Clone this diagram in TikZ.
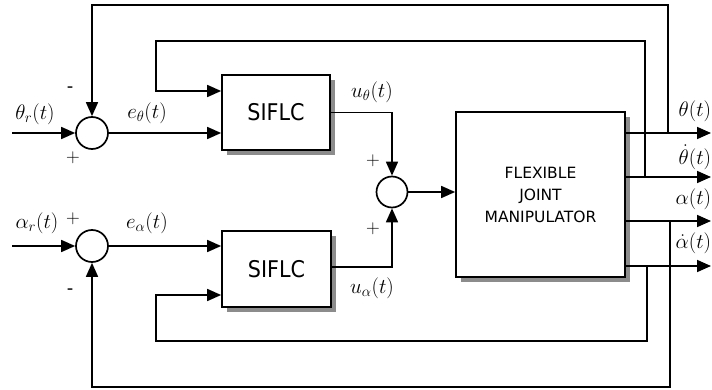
\RequirePackage{fix-cm}
\documentclass[tikz,border=0pt]{standalone}
\usepackage{fontspec}
\newfontfamily\blkfont{DejaVu Sans Condensed}
\newfontfamily\fjmfont{DejaVu Sans}
\usetikzlibrary{arrows.meta,shadows,calc}
\begin{document}
\begin{tikzpicture}[x=1pt,y=-1pt,line width=1.7pt,
  sumnode/.style={circle,draw,fill=white,minimum size=32pt,inner sep=0pt},
  blk/.style={draw,fill=white,inner sep=0pt,
    drop shadow={shadow xshift=5pt,shadow yshift=-5pt,opacity=1,fill=black!45,draw=none}},
  arr/.style={-{Triangle[length=14pt,width=12pt]}},
  lbl/.style={inner sep=0pt,font=\fontsize{21}{24}\selectfont},
  sgn/.style={inner sep=0pt,font=\fontsize{19}{22}\selectfont},
  dash sign/.style={inner sep=0pt,font=\fjmfont\fontsize{18}{20}\selectfont}]
\useasboundingbox (0,0) rectangle (712,390);

% blocks
\node[blk,minimum width=108pt,minimum height=75pt,font=\blkfont\fontsize{23}{26}\selectfont] (c1) at (276,112.5) {SIFLC};
\node[blk,minimum width=109pt,minimum height=76pt,font=\blkfont\fontsize{23}{26}\selectfont] (c2) at (276.5,269) {SIFLC};
\node[blk,minimum width=169pt,minimum height=165pt,align=center,
  font=\fjmfont\fontsize{15.5}{22}\selectfont] (fjm) at (540.5,194.5) {FLEXIBLE\\JOINT\\MANIPULATOR};

% summing junctions
\node[sumnode] (s1) at (92,133) {};
\node[sumnode] (s2) at (92,246) {};
\node[sumnode,minimum size=31pt] (s3) at (392,192) {};

% coordinates
\coordinate (in1) at (12,133);
\coordinate (in2) at (12,246);
\coordinate (o1) at (711,133);
\coordinate (o2) at (711,177);
\coordinate (o3) at (711,221);
\coordinate (o4) at (711,266);
\coordinate (j1) at (668,133);
\coordinate (j2) at (645,177);
\coordinate (j3) at (647,266);
\coordinate (j4) at (670,221);
\coordinate (t1) at (92,5);
\coordinate (t2) at (156,41);
\coordinate (b2) at (156,341);
\coordinate (b1) at (92,387);

% forward paths
\draw[arr] (in1) -- (s1.west);
\draw[arr] (in2) -- (s2.west);
\draw[arr] (s1.east) -- (s1.east -| c1.west);
\draw[arr] (s2.east) -- (s2.east -| c2.west);
\draw[arr] (c1.east) -| (s3.north);
\draw[arr] ($(c2.east)+(0,-2)$) -| (s3.south);
\draw[arr] (s3.east) -- (s3.east -| fjm.west);

% outputs
\draw[arr] (o1 -| fjm.east) -- (o1);
\draw[arr] (o2 -| fjm.east) -- (o2);
\draw[arr] (o3 -| fjm.east) -- (o3);
\draw[arr] (o4 -| fjm.east) -- (o4);

% feedback paths
\draw[arr] (j1) |- (t1) -- (s1.north);
\draw[arr] (j2) |- (t2) |- ($(c1.west)+(0,-21.5)$);
\draw[arr] (j3) |- (b2) |- ($(c2.west)+(0,26)$);
\draw[arr] (j4) |- (b1) -- (s2.south);

% labels
\node[lbl] at (35,114) {$\theta_r(t)$};
\node[lbl] at (37,223) {$\alpha_r(t)$};
\node[lbl] at (147,113) {$e_\theta(t)$};
\node[lbl] at (147,223) {$e_\alpha(t)$};
\node[lbl] at (372,92) {$u_\theta(t)$};
\node[lbl] at (372,288) {$u_\alpha(t)$};
\node[lbl,anchor=east] at (712,111) {$\theta(t)$};
\node[lbl,anchor=east] at (712,157) {$\dot\theta(t)$};
\node[lbl,anchor=east] at (712,199) {$\alpha(t)$};
\node[lbl,anchor=east] at (712,243) {$\dot\alpha(t)$};

% signs
\node[dash sign] at (70,90) {-};
\node[sgn] at (73,158) {$+$};
\node[sgn] at (73,219) {$+$};
\node[dash sign] at (70,292) {-};
\node[sgn] at (373,161) {$+$};
\node[sgn] at (373,229) {$+$};
\end{tikzpicture}
\end{document}
